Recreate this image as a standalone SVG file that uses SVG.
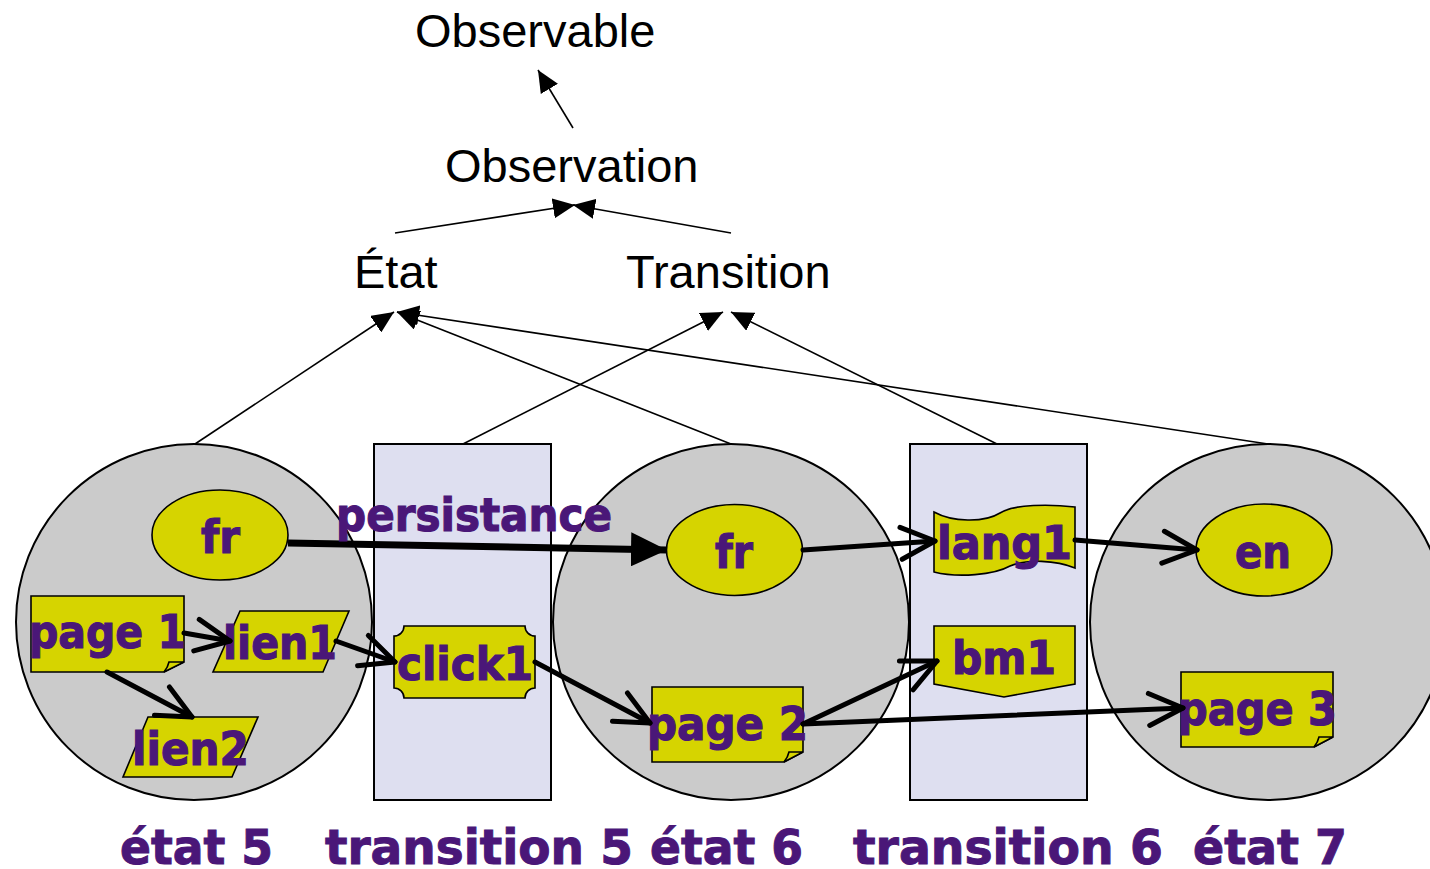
<svg xmlns="http://www.w3.org/2000/svg" width="1430" height="869" viewBox="0 0 1430 869">
  <style>
    .state { fill: #cbcbcb; stroke: #000; stroke-width: 2; }
    .trans { fill: #dedff0; stroke: #000; stroke-width: 2; }
    .item { fill: #d6d400; stroke: #000; stroke-width: 1.6; }
    .lbl { font-family: "DejaVu Sans", "Liberation Sans", sans-serif; font-weight: bold; font-size: 46px; fill: #4a1778; stroke: #4a1778; stroke-width: 1.2; }
    .cap { font-family: "DejaVu Sans", "Liberation Sans", sans-serif; font-weight: bold; font-size: 48px; fill: #4a1778; stroke: #4a1778; stroke-width: 1; }
    .model { font-family: "Liberation Sans", Arial, sans-serif; font-size: 47px; fill: #000; }
    .thin { stroke: #000; stroke-width: 1.6; fill: none; marker-end: url(#tri); }
    .thick { stroke: #000; stroke-width: 5; fill: none; stroke-linecap: round; marker-end: url(#open); }
  </style>
  <defs>
    <marker id="tri" viewBox="0 0 22 20" refX="22" refY="10" markerWidth="22" markerHeight="20" markerUnits="userSpaceOnUse" orient="auto">
      <path d="M0,0 L22,10 L0,20 Z" fill="#000"/>
    </marker>
    <marker id="open" viewBox="-3 -3 40 40" refX="34" refY="16" markerWidth="40" markerHeight="40" markerUnits="userSpaceOnUse" orient="auto" overflow="visible">
      <path d="M0,0 L34,16 L0,32" fill="none" stroke="#000" stroke-width="5" stroke-linecap="round" stroke-linejoin="round"/>
    </marker>
    <marker id="big" viewBox="0 0 36 34" refX="36" refY="17" markerWidth="36" markerHeight="34" markerUnits="userSpaceOnUse" orient="auto">
      <path d="M0,0 L36,17 L0,34 Z" fill="#000"/>
    </marker>
  </defs>

  <!-- meta-model: Observable / Observation / État / Transition -->
  <g id="observable"><text class="model" x="415" y="47">Observable</text></g>
  <g id="observation"><text class="model" x="445" y="182">Observation</text></g>
  <g id="etat"><text class="model" x="354" y="288">État</text></g>
  <g id="transition"><text class="model" x="626" y="288">Transition</text></g>

  <!-- states and transitions -->
  <g id="etat5"><circle class="state" cx="194" cy="622" r="178"/></g>
  <g id="transition5"><rect class="trans" x="374" y="444" width="177" height="356"/></g>
  <g id="etat6"><circle class="state" cx="731" cy="622" r="178"/></g>
  <g id="transition6"><rect class="trans" x="910" y="444" width="177" height="356"/></g>
  <g id="etat7"><circle class="state" cx="1268" cy="622" r="178"/></g>

  <!-- observations inside état 5 -->
  <g id="fr5">
    <ellipse class="item" cx="220" cy="535" rx="68" ry="45"/>
    <text class="lbl" x="201" y="553" textLength="39" lengthAdjust="spacingAndGlyphs">fr</text>
  </g>
  <g id="page1">
    <path class="item" d="M31,596 H184 V662 L164,672 H31 Z"/>
    <path class="item" d="M164,672 Q168,667 169,662 L184,662 Z"/>
    <text class="lbl" x="29" y="648" textLength="157" lengthAdjust="spacingAndGlyphs">page 1</text>
  </g>
  <g id="lien1">
    <polygon class="item" points="240,611 349,611 323,672 213,672"/>
    <text class="lbl" x="223" y="659" textLength="114" lengthAdjust="spacingAndGlyphs">lien1</text>
  </g>
  <g id="lien2">
    <polygon class="item" points="148,717 258,717 232,777 123,777"/>
    <text class="lbl" x="132" y="765" textLength="117" lengthAdjust="spacingAndGlyphs">lien2</text>
  </g>

  <!-- transition 5 -->
  <g id="click1">
    <path class="item" d="M404,626 H525 A10,10 0 0 0 535,636 V688 A10,10 0 0 0 525,698 H404 A10,10 0 0 0 394,688 V636 A10,10 0 0 0 404,626 Z"/>
    <text class="lbl" x="397" y="680" textLength="136" lengthAdjust="spacingAndGlyphs">click1</text>
  </g>

  <!-- état 6 -->
  <g id="fr6">
    <ellipse class="item" cx="734.5" cy="550" rx="68" ry="45.5"/>
    <text class="lbl" x="715" y="568" textLength="38" lengthAdjust="spacingAndGlyphs">fr</text>
  </g>
  <g id="page2">
    <path class="item" d="M652,687 H803 V752 L784,762 H652 Z"/>
    <path class="item" d="M784,762 Q788,757 789,752 L803,752 Z"/>
    <text class="lbl" x="647" y="740" textLength="161" lengthAdjust="spacingAndGlyphs">page 2</text>
  </g>

  <!-- transition 6 -->
  <g id="lang1">
    <path class="item" d="M934,512 C952,522 984,523 1000,513 C1014,504 1050,504 1075,507 L1075,568 C1056,560 1026,559 1010,566 C994,575 958,578 934,572 Z"/>
    <text class="lbl" x="937" y="559" textLength="135" lengthAdjust="spacingAndGlyphs">lang1</text>
  </g>
  <g id="bm1">
    <path class="item" d="M934,626 H1075 V684 L1004,697 L934,684 Z"/>
    <text class="lbl" x="952" y="674" textLength="104" lengthAdjust="spacingAndGlyphs">bm1</text>
  </g>

  <!-- état 7 -->
  <g id="en">
    <ellipse class="item" cx="1264" cy="550" rx="68" ry="46"/>
    <text class="lbl" x="1235" y="568" textLength="56" lengthAdjust="spacingAndGlyphs">en</text>
  </g>
  <g id="page3">
    <path class="item" d="M1181,672 H1333 V737 L1314,747 H1181 Z"/>
    <path class="item" d="M1314,747 Q1318,742 1319,737 L1333,737 Z"/>
    <text class="lbl" x="1178" y="725" textLength="159" lengthAdjust="spacingAndGlyphs">page 3</text>
  </g>

  <!-- connectors -->
  <g id="connectors">
    <!-- specialisation links -->
    <line class="thin" x1="573" y1="128" x2="538" y2="70"/>
    <line class="thin" x1="395" y1="233" x2="575" y2="205"/>
    <line class="thin" x1="731" y1="233" x2="573" y2="205"/>
    <line class="thin" x1="195" y1="444" x2="394" y2="312"/>
    <line class="thin" x1="731" y1="444" x2="397" y2="312"/>
    <line class="thin" x1="1268" y1="444" x2="397" y2="312"/>
    <line class="thin" x1="463" y1="444" x2="723" y2="312"/>
    <line class="thin" x1="997" y1="444" x2="731" y2="312"/>

    <!-- persistance between states -->
    <line x1="288" y1="543" x2="667" y2="550" stroke="#000" stroke-width="7" marker-end="url(#big)"/>
    <text class="lbl" x="336" y="531" textLength="276" lengthAdjust="spacingAndGlyphs">persistance</text>

    <!-- links between observations -->
    <line class="thick" x1="184" y1="633" x2="230" y2="641"/>
    <line class="thick" x1="107" y1="672" x2="192" y2="717"/>
    <line class="thick" x1="336" y1="641" x2="395" y2="662"/>
    <line class="thick" x1="535" y1="662" x2="650" y2="723"/>
    <line class="thick" x1="803" y1="550" x2="935" y2="541"/>
    <line class="thick" x1="1075" y1="540" x2="1197" y2="550"/>
    <line class="thick" x1="803" y1="724" x2="937" y2="661"/>
    <line class="thick" x1="803" y1="724" x2="1183" y2="708"/>
  </g>

  <!-- captions -->
  <g id="captions">
    <text class="cap" x="120" y="864" textLength="153" lengthAdjust="spacingAndGlyphs">état 5</text>
    <text class="cap" x="325" y="864" textLength="308" lengthAdjust="spacingAndGlyphs">transition 5</text>
    <text class="cap" x="650" y="864" textLength="153" lengthAdjust="spacingAndGlyphs">état 6</text>
    <text class="cap" x="853" y="864" textLength="310" lengthAdjust="spacingAndGlyphs">transition 6</text>
    <text class="cap" x="1193" y="864" textLength="154" lengthAdjust="spacingAndGlyphs">état 7</text>
  </g>
</svg>
